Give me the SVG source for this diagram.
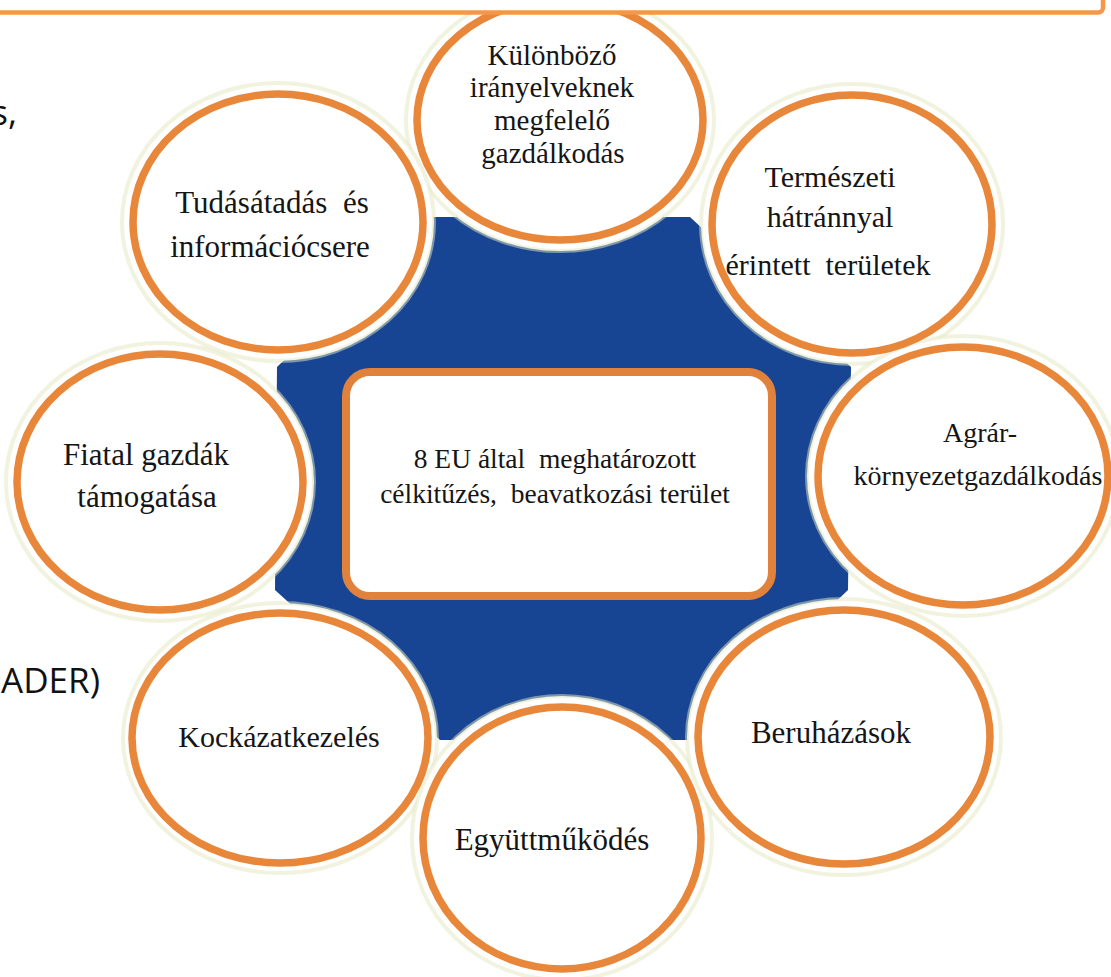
<svg xmlns="http://www.w3.org/2000/svg" width="1111" height="977" viewBox="0 0 1111 977">
<style>
.lbl{font-family:"Liberation Serif","Times New Roman",serif;fill:#151515;text-anchor:middle;white-space:pre}
.side{font-family:"Open Sans","Liberation Sans",sans-serif;fill:#111;font-size:35px;text-anchor:end}
.halo{fill:#fff;stroke:#e4e7bf;stroke-width:4;stroke-opacity:0.5}
.ring{fill:#fff;stroke:#e8863a;stroke-width:7.5}
</style>
<rect width="1111" height="977" fill="#fff"/>
<g id="background">
<polygon points="433,217 690,217 851,367 848,590 692,740 440,740 275,590 277,367" fill="#184494"/>
</g>
<g id="halos">
<ellipse class="halo" cx="560" cy="120" rx="154" ry="131"/>
<ellipse class="halo" cx="278" cy="222" rx="156" ry="139"/>
<ellipse class="halo" cx="852" cy="224" rx="151" ry="140"/>
<ellipse class="halo" cx="160" cy="482" rx="154" ry="139"/>
<ellipse class="halo" cx="963" cy="476" rx="156" ry="140"/>
<ellipse class="halo" cx="280" cy="738" rx="157" ry="135"/>
<ellipse class="halo" cx="562" cy="838" rx="150" ry="142"/>
<ellipse class="halo" cx="844" cy="737" rx="157" ry="138"/>
</g>
<g id="node-kulonbozo">
<ellipse class="ring" cx="560" cy="120" rx="143" ry="120"/>
<text class="lbl" font-size="29"><tspan x="552" y="65">Különböző</tspan><tspan x="552" y="97">irányelveknek</tspan><tspan x="552" y="130">megfelelő</tspan><tspan x="553" y="163">gazdálkodás</tspan></text>
</g>
<g id="node-tudasatadas">
<ellipse class="ring" cx="278" cy="222" rx="145" ry="128"/>
<text class="lbl" font-size="31"><tspan x="272" y="213">Tudásátadás  és</tspan><tspan x="270" y="257">információcsere</tspan></text>
</g>
<g id="node-termeszeti">
<ellipse class="ring" cx="852" cy="224" rx="140" ry="129"/>
<text class="lbl" font-size="30"><tspan x="830" y="187">Természeti</tspan><tspan x="830" y="227">hátránnyal</tspan><tspan x="828" y="275">érintett  területek</tspan></text>
</g>
<g id="node-fiatal">
<ellipse class="ring" cx="160" cy="482" rx="143" ry="128"/>
<text class="lbl" font-size="31"><tspan x="146" y="465">Fiatal gazdák</tspan><tspan x="147" y="507">támogatása</tspan></text>
</g>
<g id="node-agrar">
<ellipse class="ring" cx="963" cy="476" rx="145" ry="129"/>
<text class="lbl" font-size="28"><tspan x="980" y="442">Agrár-</tspan><tspan x="978" y="485">környezetgazdálkodás</tspan></text>
</g>
<g id="node-kockazat">
<ellipse class="ring" cx="280" cy="738" rx="148" ry="125"/>
<text class="lbl" font-size="30" x="279" y="747">Kockázatkezelés</text>
</g>
<g id="node-egyuttmukodes">
<ellipse class="ring" cx="562" cy="838" rx="139" ry="131"/>
<text class="lbl" font-size="31" x="552" y="850">Együttműködés</text>
</g>
<g id="node-beruhazasok">
<ellipse class="ring" cx="844" cy="737" rx="146" ry="127"/>
<text class="lbl" font-size="31" x="831" y="743">Beruházások</text>
</g>
<g id="node-center">
<rect x="346" y="372" width="426" height="224" rx="24" fill="#fff" stroke="#e0823c" stroke-width="8"/>
<text class="lbl" font-size="27.5"><tspan x="555" y="468">8 EU által  meghatározott</tspan><tspan x="555" y="503">célkitűzés,  beavatkozási terület</tspan></text>
</g>
<g id="connectors"></g>
<g id="slide-fragments">
<rect x="-10" y="-30" width="1113" height="42.5" rx="5" fill="#fff" stroke="#f79646" stroke-width="4.5"/>
<text class="side" x="17" y="125">s,</text>
<text class="side" x="100" y="693">ADER)</text>
</g>
</svg>
